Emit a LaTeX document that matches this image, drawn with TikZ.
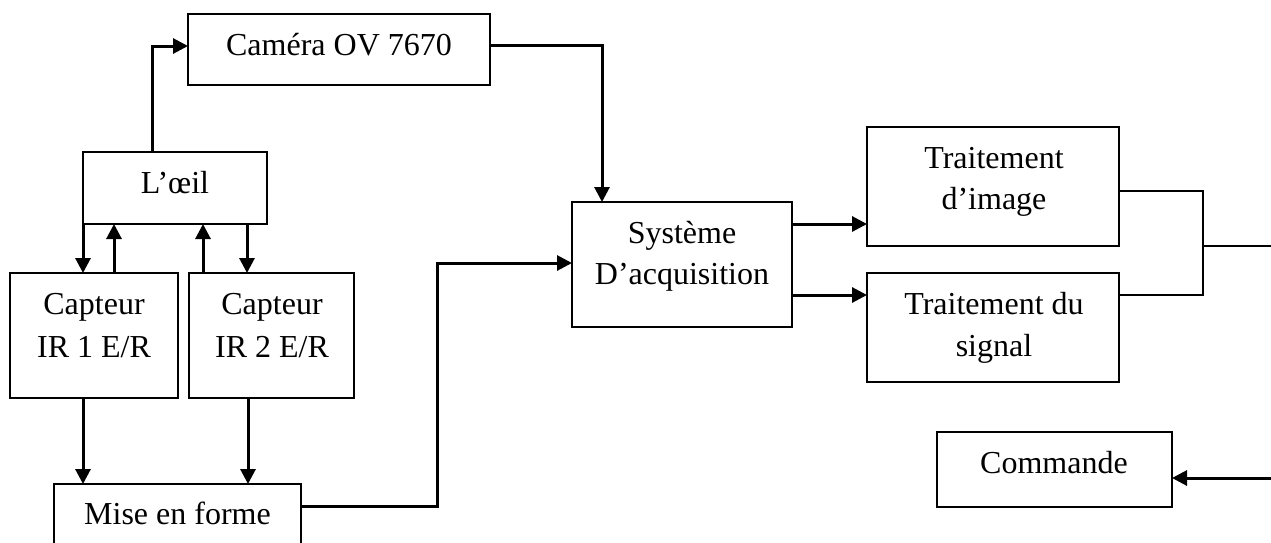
\documentclass[tikz,border=0pt]{standalone}
\usepackage{fontspec}
\setmainfont{Liberation Serif}
\usetikzlibrary{arrows.meta,calc}
\begin{document}
\begin{tikzpicture}[x=1pt,y=-1pt,
  box/.style={draw,line width=2pt,inner sep=0pt,outer sep=0pt,anchor=north west},
  lbl/.style={anchor=base,inner sep=0pt,font=\fontsize{32}{38}\selectfont},
  arr/.style={line width=3pt,-{Triangle[length=15pt,width=15pt]}},
  wire/.style={line width=2.4pt}]
\useasboundingbox (0,0) rectangle (1271,542);
% boxes
\node[box,minimum width=302pt,minimum height=71pt] (cam) at (188,14) {};
\node[box,minimum width=184pt,minimum height=72pt] (oeil) at (83,152) {};
\node[box,minimum width=168pt,minimum height=125pt] (c1) at (10,273) {};
\node[box,minimum width=165pt,minimum height=125pt] (c2) at (189,273) {};
\node[box,minimum width=247pt,minimum height=70pt] (mef) at (54,484) {};
\node[box,minimum width=220pt,minimum height=125pt] (sys) at (572,202) {};
\node[box,minimum width=252pt,minimum height=119pt] (ti) at (867,127) {};
\node[box,minimum width=252pt,minimum height=109pt] (ts) at (867,273) {};
\node[box,minimum width=235pt,minimum height=75pt] (cmd) at (937,432) {};
% texts
\node[lbl] (camt) at (339,55) {Caméra OV 7670};
\node[lbl] (oeilt) at (175,193) {L’œil};
\node[lbl] (c1a) at (94,314) {Capteur};
\node[lbl] (c1b) at (94,357) {IR 1 E/R};
\node[lbl] (c2a) at (272,314) {Capteur};
\node[lbl] (c2b) at (272,357) {IR 2 E/R};
\node[lbl] (meft) at (177.5,524) {Mise en forme};
\node[lbl] (sysa) at (682,243) {Système};
\node[lbl] (sysb) at (682,284) {D’acquisition};
\node[lbl] (tia) at (994,168) {Traitement};
\node[lbl] (tib) at (994,209) {d’image};
\node[lbl] (tsa) at (994,314) {Traitement du};
\node[lbl] (tsb) at (994,356) {signal};
\node[lbl] (cmdt) at (1054,473) {Commande};
% free ends
\coordinate (jn) at (1203,246);
\coordinate (out) at (1271,246);
\coordinate (in) at (1271,478);
% connectors
\draw[arr] ([xshift=-23pt]oeil.north) |- ([yshift=3.5pt]cam.west);
\draw[arr] (oeil.south west) -- (oeil.south west |- c1.north);
\draw[arr] ([xshift=20pt]c1.north) -- ([xshift=20pt]c1.north |- oeil.south);
\draw[arr] ([xshift=-68.5pt]c2.north) -- ([xshift=-68.5pt]c2.north |- oeil.south);
\draw[arr] ([xshift=-20pt]oeil.south east) -- ([xshift=-20pt]oeil.south east |- c2.north);
\draw[arr] ([xshift=-11pt]c1.south) -- ([xshift=-11pt]c1.south |- mef.north);
\draw[arr] ([xshift=-23.5pt]c2.south) -- ([xshift=-23.5pt]c2.south |- mef.north);
\draw[arr] ([yshift=13pt]mef.east) -- ++(136,0) |- ([yshift=1.5pt]sys.west);
\draw[arr] ([yshift=4.5pt]cam.east) -| ([xshift=-80pt]sys.north);
\draw[arr] ([yshift=40.5pt]sys.east) -- ([yshift=40.5pt]sys.east -| ti.west);
\draw[arr] ([yshift=-30.5pt]sys.east) -- ([yshift=-30.5pt]sys.east -| ts.west);
\draw[wire] ([yshift=-4.5pt]ti.east) -| (jn);
\draw[wire] ([yshift=32.5pt]ts.east) -| (jn) -- (out);
\draw[arr] (in) -- ([yshift=-8.5pt]cmd.east);
\end{tikzpicture}
\end{document}
